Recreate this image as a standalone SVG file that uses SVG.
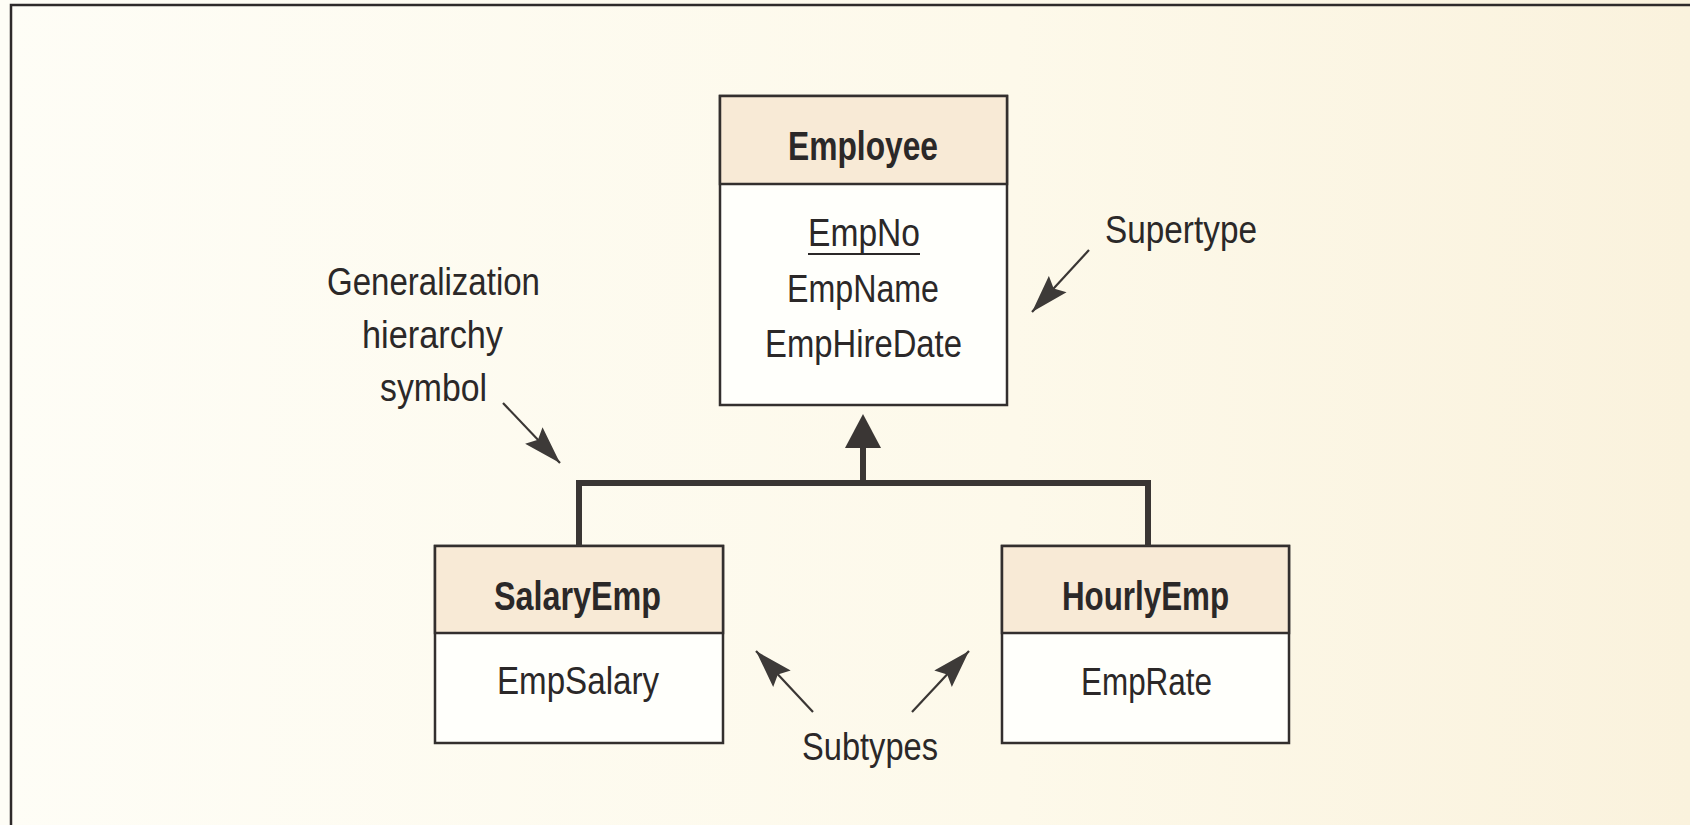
<svg xmlns="http://www.w3.org/2000/svg" width="1690" height="825" viewBox="0 0 1690 825">
<defs>
<linearGradient id="bg" x1="0" y1="0" x2="1" y2="0">
<stop offset="0" stop-color="#fefdf6"/>
<stop offset="0.6" stop-color="#fdf9ea"/>
<stop offset="1" stop-color="#faf2dd"/>
</linearGradient>
<marker id="ah" markerUnits="userSpaceOnUse" markerWidth="40" markerHeight="26" refX="38" refY="13" orient="auto" viewBox="0 0 40 26">
<path d="M0,1 L38,13 L0,25 L6,13 z" fill="#3d3a38"/>
</marker>
<style>
.box{fill:#fffffb;stroke:#332f2e;stroke-width:2.5}
.hdr{fill:#f8ead6;stroke:#332f2e;stroke-width:2.5}
.t{font-family:"Liberation Sans",Arial,sans-serif;font-size:38px;fill:#2b2828}
.b{font-family:"Liberation Sans",Arial,sans-serif;font-size:40px;font-weight:bold;fill:#2b2828}
.conn{fill:none;stroke:#3a3634;stroke-width:6}
.ann{fill:none;stroke:#3a3634;stroke-width:2.2;marker-end:url(#ah)}
</style>
</defs>
<rect x="0" y="0" width="1690" height="825" fill="url(#bg)"/>
<path d="M11,825 V5 H1690" fill="none" stroke="#2e2a2a" stroke-width="2.5"/>

<g id="employee">
<rect class="box" x="720" y="96" width="287" height="309"/>
<rect class="hdr" x="720" y="96" width="287" height="88"/>
<text class="b" x="788" y="160" textLength="150" lengthAdjust="spacingAndGlyphs">Employee</text>
<text class="t" x="808" y="246" textLength="112" lengthAdjust="spacingAndGlyphs">EmpNo</text>
<line x1="808" y1="254" x2="920" y2="254" stroke="#2b2828" stroke-width="2.2"/>
<text class="t" x="787" y="302" textLength="152" lengthAdjust="spacingAndGlyphs">EmpName</text>
<text class="t" x="765" y="357" textLength="197" lengthAdjust="spacingAndGlyphs">EmpHireDate</text>
</g>

<g id="salaryemp">
<rect class="box" x="435" y="546" width="288" height="197"/>
<rect class="hdr" x="435" y="546" width="288" height="87"/>
<text class="b" x="494" y="610" textLength="167" lengthAdjust="spacingAndGlyphs">SalaryEmp</text>
<text class="t" x="497" y="694" textLength="162" lengthAdjust="spacingAndGlyphs">EmpSalary</text>
</g>

<g id="hourlyemp">
<rect class="box" x="1002" y="546" width="287" height="197"/>
<rect class="hdr" x="1002" y="546" width="287" height="87"/>
<text class="b" x="1062" y="610" textLength="167" lengthAdjust="spacingAndGlyphs">HourlyEmp</text>
<text class="t" x="1081" y="695" textLength="131" lengthAdjust="spacingAndGlyphs">EmpRate</text>
</g>

<g id="connectors">
<path class="conn" d="M579,546 V483 H1148 V546"/>
<path class="conn" d="M863,483 V446"/>
<polygon points="863,414 845,448 881,448" fill="#3a3634"/>
</g>

<g id="annotations">
<text class="t" x="327" y="295" textLength="213" lengthAdjust="spacingAndGlyphs">Generalization</text>
<text class="t" x="362" y="348" textLength="141" lengthAdjust="spacingAndGlyphs">hierarchy</text>
<text class="t" x="380" y="401" textLength="107" lengthAdjust="spacingAndGlyphs">symbol</text>
<line class="ann" x1="503" y1="403" x2="560" y2="463"/>
<text class="t" x="1105" y="243" textLength="152" lengthAdjust="spacingAndGlyphs">Supertype</text>
<line class="ann" x1="1089" y1="250" x2="1032" y2="312"/>
<text class="t" x="802" y="760" textLength="136" lengthAdjust="spacingAndGlyphs">Subtypes</text>
<line class="ann" x1="813" y1="712" x2="756" y2="651"/>
<line class="ann" x1="912" y1="712" x2="969" y2="651"/>
</g>
</svg>
